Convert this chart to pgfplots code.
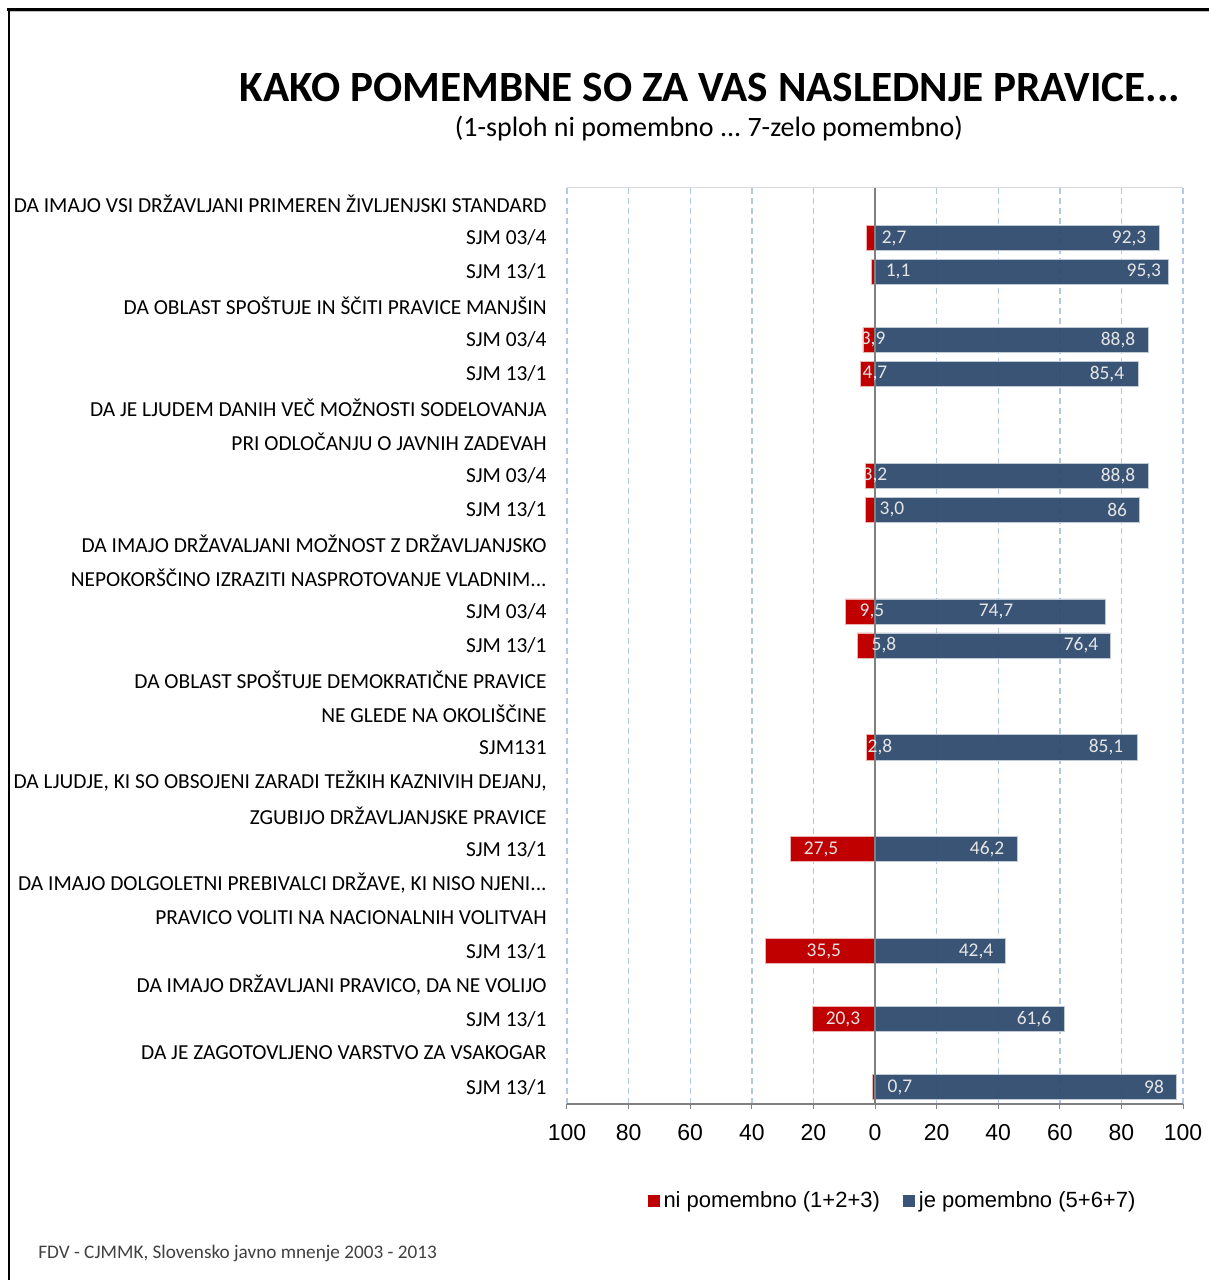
\documentclass[border=0pt]{standalone}
\usepackage{pgfplots}
\pgfplotsset{compat=1.18}
\usepackage{fontspec}
\setmainfont{Carlito}
\newfontfamily\arialf{Liberation Sans}
\definecolor{redbar}{HTML}{C00000}
\definecolor{bluebar}{HTML}{2F4B6F}
\definecolor{gridblue}{HTML}{B4C7E7}
\newcommand\tdots{...}
\tikzset{labl/.style={font=\fontsize{9.7}{11}\selectfont, text=white!90!black, inner sep=0pt}}
\begin{document}
\begin{tikzpicture}
\path[use as bounding box] (0,0) rectangle (604.5pt,-640pt);
\draw[line width=1.5pt] (3.5pt,-4.5pt) -- (604.5pt,-4.5pt);
\draw[black!25, line width=0.5pt] (5pt,-5.8pt) -- (604.5pt,-5.8pt);
\draw[line width=1pt] (4.5pt,-4pt) -- (4.5pt,-640pt);
\node[font=\bfseries\fontsize{21.6}{26}\selectfont] at (355pt,-43.5pt) {KAKO POMEMBNE SO ZA VAS NASLEDNJE PRAVICE\tdots};
\node[font=\fontsize{14}{17}\selectfont] at (354.5pt,-64.5pt) {(1-sploh ni pomembno \tdots\ 7-zelo pomembno)};
\node[anchor=west, inner sep=0pt, font=\fontsize{9.6}{11}\selectfont, text=black!75] at (19pt,-626.5pt) {FDV - CJMMK, Slovensko javno mnenje 2003 - 2013};
\begin{axis}[
  at={(283.5pt,-552pt)}, anchor=south west,
  scale only axis, width=308pt, height=458.5pt,
  xmin=-100, xmax=100, ymin=0.5, ymax=27.5,
  xbar, bar width=0.74, bar shift=0pt,
  separate axis lines,
  axis line style={draw=none},
  xtick={-100,-80,...,100},
  xticklabels={100,80,60,40,20,0,20,40,60,80,100},
  xtick pos=left,
  tick align=outside, major tick length=2.5pt,
  xtick style={black!50, line width=0.5pt},
  ytick style={draw=none},
  ytick={1,2,3,4,5,6,7,8,9,10,11,12,13,14,15,16,17,18,19,20,21,22,23,24,25,26,27},
  yticklabels={SJM 13/1, DA JE ZAGOTOVLJENO VARSTVO ZA VSAKOGAR, SJM 13/1, {DA IMAJO DRŽAVLJANI PRAVICO, DA NE VOLIJO}, SJM 13/1, PRAVICO VOLITI NA NACIONALNIH VOLITVAH, {DA IMAJO DOLGOLETNI PREBIVALCI DRŽAVE, KI NISO NJENI\tdots}, SJM 13/1, ZGUBIJO DRŽAVLJANJSKE PRAVICE, {DA LJUDJE, KI SO OBSOJENI ZARADI TEŽKIH KAZNIVIH DEJANJ,}, SJM131, NE GLEDE NA OKOLIŠČINE, DA OBLAST SPOŠTUJE DEMOKRATIČNE PRAVICE, SJM 13/1, SJM 03/4, {NEPOKORŠČINO IZRAZITI NASPROTOVANJE VLADNIM\tdots}, DA IMAJO DRŽAVALJANI MOŽNOST Z DRŽAVLJANJSKO, SJM 13/1, SJM 03/4, PRI ODLOČANJU O JAVNIH ZADEVAH, DA JE LJUDEM DANIH VEČ MOŽNOSTI SODELOVANJA, SJM 13/1, SJM 03/4, DA OBLAST SPOŠTUJE IN ŠČITI PRAVICE MANJŠIN, SJM 13/1, SJM 03/4, DA IMAJO VSI DRŽAVLJANI PRIMEREN ŽIVLJENJSKI STANDARD},
  xmajorgrids,
  grid style={gridblue, dash pattern=on 3pt off 2pt, line width=0.7pt},
  xticklabel style={font=\arialf\fontsize{11.5}{13}\selectfont, yshift=-4pt},
  yticklabel style={font=\fontsize{10.7}{12}\selectfont, anchor=east, inner sep=0pt, xshift=-7.5pt},
  legend style={at={(0.530,-0.1058)}, anchor=center, draw=none, legend columns=2,
    font=\arialf\fontsize{11}{13}\selectfont,
    /tikz/every even column/.append style={column sep=9.5pt}},
  legend image code/.code={\fill[#1,draw=none] (0pt,-3pt) rectangle (6pt,3pt);},
]
\addplot[fill=redbar, draw=white!70!redbar, line width=0.4pt] coordinates {
(-2.7,26) (-1.1,25) (-3.9,23) (-4.7,22) (-3.2,19) (-3.0,18) (-9.5,15) (-5.8,14) (-2.8,11) (-27.5,8) (-35.5,5) (-20.3,3) (-0.7,1)};
\addplot[fill=bluebar, draw=white!70!bluebar, line width=0.4pt, fill opacity=0.95] coordinates {
(92.3,26) (95.3,25) (88.8,23) (85.4,22) (88.8,19) (86,18) (74.7,15) (76.4,14) (85.1,11) (46.2,8) (42.4,5) (61.6,3) (98,1)};
\legend{ni pomembno (1+2+3), je pomembno (5+6+7)}
\draw[black!50, line width=0.6pt] (axis cs:0,0.5) -- (axis cs:0,27.5);
\draw[black!15, line width=0.5pt] (axis cs:-100,27.5) -- (axis cs:100,27.5);
\draw[black!50, line width=0.6pt] (axis cs:-100,0.5) -- (axis cs:100,0.5);
\node[labl] at (axis cs:6.2,26) {2,7};   \node[labl] at (axis cs:82.5,26) {92,3};
\node[labl] at (axis cs:7.5,25) {1,1};   \node[labl] at (axis cs:87.3,25) {95,3};
\node[labl] at (axis cs:-0.6,23) {3,9};  \node[labl] at (axis cs:78.9,23) {88,8};
\node[labl] at (axis cs:0,22) {4,7};     \node[labl] at (axis cs:75.3,22) {85,4};
\node[labl] at (axis cs:0,19) {3,2};     \node[labl] at (axis cs:78.9,19) {88,8};
\node[labl] at (axis cs:5.5,18) {3,0};   \node[labl] at (axis cs:78.6,18) {86};
\node[labl] at (axis cs:-1,15) {9,5};    \node[labl] at (axis cs:39.3,15) {74,7};
\node[labl] at (axis cs:2.9,14) {5,8};   \node[labl] at (axis cs:66.9,14) {76,4};
\node[labl] at (axis cs:1.6,11) {2,8};   \node[labl] at (axis cs:75,11) {85,1};
\node[labl] at (axis cs:-17.5,8) {27,5}; \node[labl] at (axis cs:36.4,8) {46,2};
\node[labl] at (axis cs:-16.6,5) {35,5}; \node[labl] at (axis cs:32.8,5) {42,4};
\node[labl] at (axis cs:-10.4,3) {20,3}; \node[labl] at (axis cs:51.6,3) {61,6};
\node[labl] at (axis cs:8.1,1) {0,7};    \node[labl] at (axis cs:90.6,1) {98};
\end{axis}
\end{tikzpicture}
\end{document}
